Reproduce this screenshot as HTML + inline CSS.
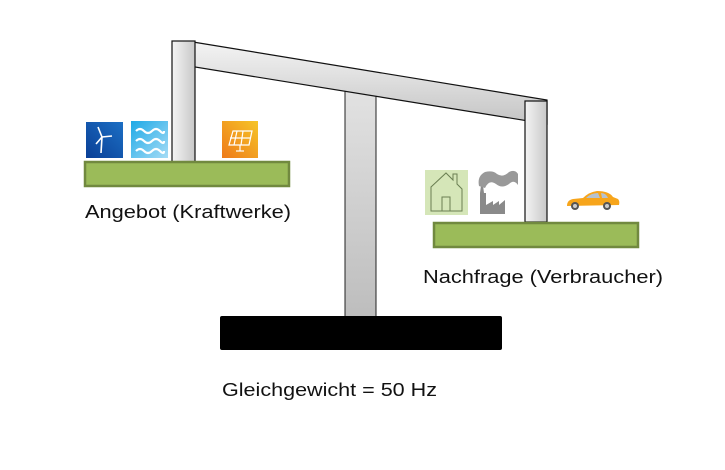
<!DOCTYPE html>
<html><head><meta charset="utf-8"><style>
html,body{margin:0;padding:0;background:#fff;}
svg{display:block;}
text{font-family:"Liberation Sans",sans-serif;fill:#111;}
</style></head><body>
<svg width="725" height="470" viewBox="0 0 725 470" xmlns="http://www.w3.org/2000/svg">
<defs>
<linearGradient id="gv" x1="0" y1="0" x2="1" y2="0">
<stop offset="0" stop-color="#f4f4f4"/><stop offset="1" stop-color="#c8c8c8"/></linearGradient>
<linearGradient id="gc" x1="0" y1="0" x2="0" y2="1">
<stop offset="0" stop-color="#e2e2e2"/><stop offset="1" stop-color="#bdbdbd"/></linearGradient>
<linearGradient id="gb" x1="0" y1="0" x2="0" y2="1">
<stop offset="0" stop-color="#f4f4f4"/><stop offset="1" stop-color="#c4c4c4"/></linearGradient>
<linearGradient id="gw" x1="0" y1="1" x2="1" y2="0">
<stop offset="0" stop-color="#0a3f96"/><stop offset="1" stop-color="#1c6fc4"/></linearGradient>
<linearGradient id="gh" x1="0" y1="0" x2="1" y2="1">
<stop offset="0" stop-color="#1ea9e6"/><stop offset="1" stop-color="#a6dcf6"/></linearGradient>
<linearGradient id="gs" x1="0" y1="1" x2="1" y2="0">
<stop offset="0" stop-color="#ee7a1a"/><stop offset="1" stop-color="#f6c528"/></linearGradient>
</defs>
<rect x="345" y="90" width="31" height="228" fill="url(#gc)" stroke="#222" stroke-width="1"/>
<polygon points="193,42 547,100 547,124 195,67" fill="url(#gb)" stroke="#111" stroke-width="1.2"/>
<rect x="172" y="41" width="23" height="121" fill="url(#gv)" stroke="#111" stroke-width="1.2"/>
<rect x="525" y="101" width="22" height="121" fill="url(#gv)" stroke="#111" stroke-width="1.2"/>
<rect x="220" y="316" width="282" height="34" rx="2" fill="#000"/>
<rect x="85" y="162" width="204" height="24" fill="#9bbb59" stroke="#71893f" stroke-width="2.5"/>
<rect x="434" y="223" width="204" height="24" fill="#9bbb59" stroke="#71893f" stroke-width="2.5"/>
<rect x="86" y="122" width="37" height="36" fill="url(#gw)"/>
<g stroke="#fff" stroke-width="1.6" fill="none"><line x1="101" y1="153" x2="102" y2="137"/><line x1="102" y1="137" x2="98" y2="127"/><line x1="102" y1="137" x2="112" y2="136"/><line x1="102" y1="137" x2="96" y2="144"/></g>
<rect x="131" y="121" width="37" height="37" fill="url(#gh)"/>
<g stroke="#fff" stroke-width="2.2" fill="none">
<path d="M136 131 q4-4 8 0 t8 0 t8 0 t4 0"/><path d="M136 141 q4-4 8 0 t8 0 t8 0 t4 0"/><path d="M136 151 q4-4 8 0 t8 0 t8 0 t4 0"/></g>
<rect x="222" y="121" width="36" height="37" fill="url(#gs)"/>
<g stroke="#fff" stroke-width="1.2" fill="none"><polygon points="229,145 233,131 252,131 249,145"/><line x1="230" y1="138" x2="251" y2="138"/><line x1="237" y1="131" x2="234" y2="145"/><line x1="243" y1="131" x2="241" y2="145"/><line x1="240" y1="145" x2="240" y2="151"/><line x1="236" y1="151" x2="244" y2="151"/></g>
<rect x="425" y="170" width="43" height="45" fill="#d5e6b8"/>
<path d="M431 200 L431 187 L446 173 L453 180 L453 174 L457 174 L457 184 L462 189 L462 211 L431 211 Z M442 211 L442 197 L450 197 L450 211" fill="none" stroke="#6a7f52" stroke-width="1"/>
<path d="M480 214 L480 193 L482 178 L484 193 L486 193 L486 205 L493 201 L493 205 L499 201 L499 205 L505 200 L505 214 Z" fill="#8a8a8a"/>
<path d="M479 186 q-2-10 6-14 q8-2 12 2 q6 4 12-2 q6-3 9 2 l0 11 q-4-6-9-1 q-7 5-13 0 q-7-5-11 4 z" fill="#999"/>
<path d="M567 206 q0-6 6-7 l10-1 q6-6 14-7 q12 0 16 6 l5 2 q2 2 1 6 z" fill="#f7a51b"/>
<path d="M586 198 q5-5 12-5 l2 5 z M602 198 l-1-5 q5 0 7 5z" fill="#b6c2cf"/>
<circle cx="575" cy="206" r="4" fill="#555"/><circle cx="607" cy="206" r="4" fill="#555"/>
<circle cx="575" cy="206" r="2" fill="#ccc"/><circle cx="607" cy="206" r="2" fill="#ccc"/>
<text x="85" y="218" font-size="18" textLength="206" lengthAdjust="spacingAndGlyphs">Angebot (Kraftwerke)</text>
<text x="423" y="283" font-size="18" textLength="240" lengthAdjust="spacingAndGlyphs">Nachfrage (Verbraucher)</text>
<text x="222" y="396" font-size="18" textLength="215" lengthAdjust="spacingAndGlyphs">Gleichgewicht = 50 Hz</text>
</svg>
</body></html>
